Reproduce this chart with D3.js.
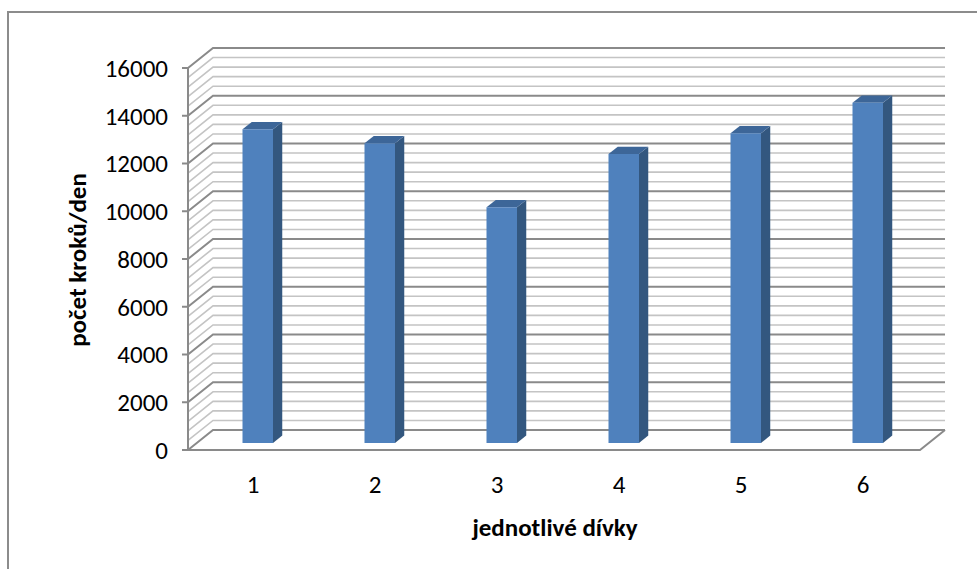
<!DOCTYPE html>
<html><head><meta charset="utf-8">
<script src="https://cdn.jsdelivr.net/npm/d3@7"></script>
<style>body{margin:0;background:#fff}svg{display:block}text{font-family:Carlito,Lato,"Liberation Sans",sans-serif;fill:#000}</style>
</head><body><svg id="c" width="977" height="569"></svg>
<script>
const categories = ["1","2","3","4","5","6"];
const values = [13140, 12550, 9870, 12100, 12970, 14250];
const yTicks = [0,2000,4000,6000,8000,10000,12000,14000,16000];
const xTitle = "jednotlivé dívky";
const yTitle = "počet kroků/den";

const svg = d3.select("#c");
const DX = 25, DY = -20;
const x = d3.scaleBand().domain(categories).range([188,920]).paddingInner(0.75).paddingOuter(0.375);
const y = d3.scaleLinear().domain([0,16000]).range([450,68]);
const P = (px, py, d) => [px + DX*d, py + DY*d];

// chart border
svg.append("rect").attr("x",8).attr("y",12).attr("width",1200).attr("height",800)
  .attr("fill","none").attr("stroke","#8c8c8c").attr("stroke-width",2);

// floor
const fl = [P(188,450,0),P(920,450,0),P(920,450,1),P(188,450,1)];
svg.append("polygon").attr("points",fl.map(p=>p.join(",")).join(" ")).attr("fill","#fff");

// gridlines
const grid = d3.range(0,16001,400);
const g = svg.append("g");
grid.forEach(v=>{
  const major = v % 2000 === 0;
  const col = major ? "#8a8a8a" : "#c4c4c4";
  const yy = y(v);
  const a = P(188,yy,0), b = P(188,yy,1), c = P(920,yy,1);
  g.append("polyline").attr("points",[a,b,c].map(p=>p.join(",")).join(" "))
    .attr("fill","none").attr("stroke",col).attr("stroke-width",major?2:1.6);
});
// floor edges
const fe = [P(188,450,0),P(920,450,0),P(920,450,1)];
svg.append("polyline").attr("points",fe.map(p=>p.join(",")).join(" "))
  .attr("fill","none").attr("stroke","#8a8a8a").attr("stroke-width",2);

// bars
const f1 = 0.35, f2 = 0.72;
const bars = svg.append("g");
categories.forEach((c,i)=>{
  const x0 = x(c), x1 = x(c)+x.bandwidth();
  const yt = y(values[i]), yb = y(0);
  const front = [P(x0,yt,f1),P(x1,yt,f1),P(x1,yb,f1),P(x0,yb,f1)];
  const side = [P(x1,yt,f1),P(x1,yt,f2),P(x1,yb,f2),P(x1,yb,f1)];
  const top = [P(x0,yt,f1),P(x1,yt,f1),P(x1,yt,f2),P(x0,yt,f2)];
  bars.append("polygon").attr("points",side.map(p=>p.join(",")).join(" ")).attr("fill","#33577f");
  bars.append("polygon").attr("points",top.map(p=>p.join(",")).join(" ")).attr("fill","#3d6698");
  bars.append("polygon").attr("points",front.map(p=>p.join(",")).join(" ")).attr("fill","#4f81bd");
});

// y axis
svg.append("line").attr("x1",188).attr("x2",188).attr("y1",y(0)).attr("y2",y(16000))
  .attr("stroke","#8a8a8a").attr("stroke-width",2);
yTicks.forEach(v=>{
  svg.append("line").attr("x1",182).attr("x2",188).attr("y1",y(v)).attr("y2",y(v))
    .attr("stroke","#8a8a8a").attr("stroke-width",2);
  svg.append("text").attr("x",168).attr("y",y(v)).attr("dy","0.35em")
    .attr("text-anchor","end").attr("font-size",25).text(v);
});
// x labels
categories.forEach(c=>{
  svg.append("text").attr("x",x(c)+x.bandwidth()/2+4).attr("y",484).attr("dy","0.35em")
    .attr("text-anchor","middle").attr("font-size",25).text(c);
});
svg.append("text").attr("x",555).attr("y",527).attr("dy","0.35em").attr("text-anchor","middle")
  .attr("font-size",25).attr("font-weight","bold").text(xTitle);
svg.append("text").attr("transform","translate(77,260) rotate(-90)").attr("dy","0.35em")
  .attr("text-anchor","middle").attr("font-size",25).attr("font-weight","bold").text(yTitle);
</script></body></html>
